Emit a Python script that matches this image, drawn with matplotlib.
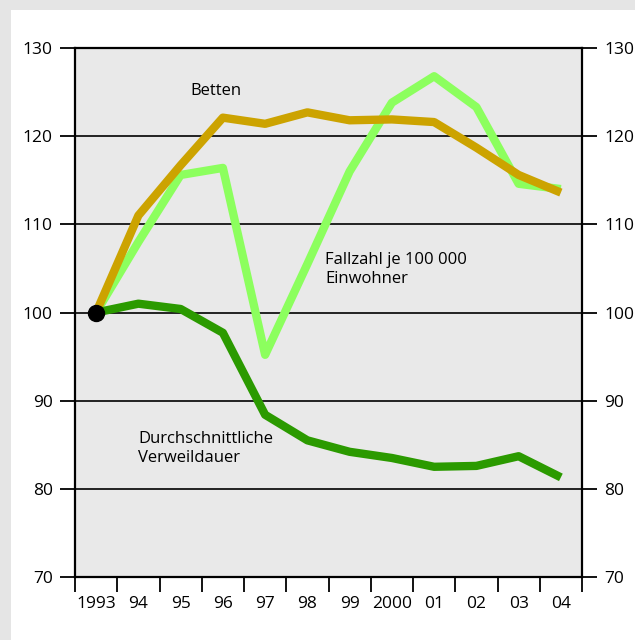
import numpy as np
import matplotlib
matplotlib.use("Agg")
from matplotlib import pyplot as plt
from matplotlib.patches import Rectangle

plt.rcParams['font.family'] = ['Open Sans', 'DejaVu Sans']

years = ['1993', '94', '95', '96', '97', '98', '99', '2000', '01', '02', '03', '04']
betten = [100, 111.0, 116.7, 122.1, 121.4, 122.7, 121.8, 121.9, 121.6, 118.7, 115.6, 113.6]
fallzahl = [100, 108.0, 115.6, 116.4, 95.2, 105.5, 116.0, 123.8, 126.8, 123.3, 114.6, 114.0]
verweildauer = [100, 101.0, 100.4, 97.7, 88.4, 85.5, 84.2, 83.5, 82.5, 82.6, 83.7, 81.3]
yticks = [70, 80, 90, 100, 110, 120, 130]

fig = plt.figure(figsize=(6.35, 6.40), dpi=100, facecolor='#e5e5e5')
fig.patches.append(Rectangle((11 / 635, 0), 1, 630 / 640, transform=fig.transFigure,
                             facecolor='white', edgecolor='none', zorder=-10))

ax = fig.add_axes([75 / 635, 63 / 640, 507 / 635, 529 / 640])
ax.set_facecolor('#e9e9e9')

x = np.arange(len(years)) + 0.5
ax.plot(x, fallzahl, color='#8cff5e', lw=6.0, solid_capstyle='butt', zorder=3)
ax.plot(x, betten, color='#cca300', lw=6.0, solid_capstyle='butt', zorder=4)
ax.plot(x, verweildauer, color='#2b9a00', lw=6.0, solid_capstyle='butt', zorder=4)
ax.plot([x[0]], [100], 'o', color='black', ms=11.5, zorder=5)

ax.set_xlim(0, 12)
ax.set_ylim(70, 130)
ax.set_yticks(yticks)
ax.grid(axis='y', color='black', lw=1.2, zorder=1)
ax.set_axisbelow(True)

ax.set_xticks(x)
ax.set_xticklabels(years)
ax.set_xticks(np.arange(0, 13), minor=True)
ax.tick_params(axis='x', which='major', length=0, pad=14, labelsize=12.5)
ax.tick_params(axis='x', which='minor', length=11, width=1.3, direction='out')
ax.tick_params(axis='y', length=11, width=1.3, pad=5, labelsize=12.5,
               left=True, right=True, labelleft=True, labelright=True)

for s in ax.spines.values():
    s.set_linewidth(1.6)

ax.text(2.72, 125.1, 'Betten', fontsize=12, ha='left', va='center')
ax.text(5.92, 104.9, 'Fallzahl je 100 000\nEinwohner', fontsize=12,
        ha='left', va='center', linespacing=1.25)
ax.text(1.49, 84.6, 'Durchschnittliche\nVerweildauer', fontsize=12,
        ha='left', va='center', linespacing=1.25)

fig.savefig('out.png', dpi=100, facecolor=fig.get_facecolor())
